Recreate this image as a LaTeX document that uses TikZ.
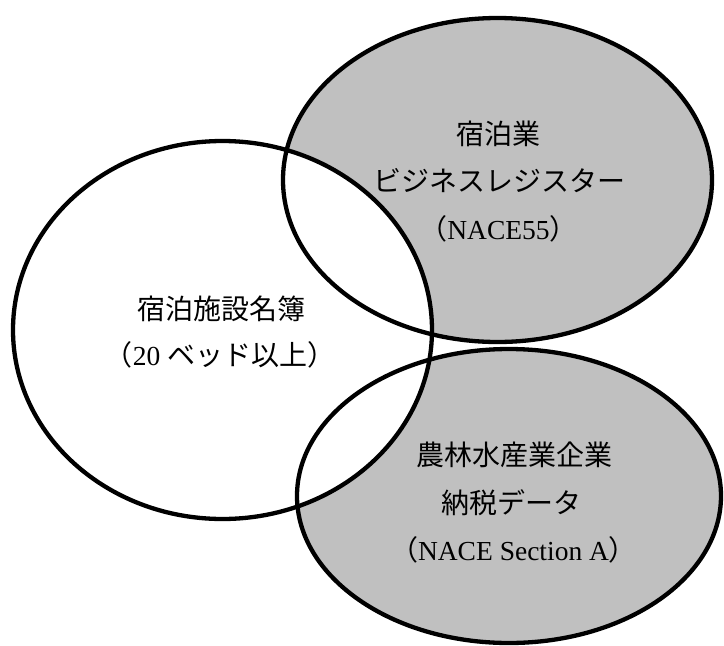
\documentclass[tikz,border=0pt]{standalone}
\usepackage{fontspec}
\setmainfont{Liberation Serif}
\newfontfamily\jp{Noto Sans CJK JP}
\definecolor{venngray}{RGB}{192,192,192}
\tikzset{
  setline/.style={line width=4.3pt, draw=black},
  lbl/.style={font=\fontsize{27.5}{30}\selectfont, inner sep=0pt, anchor=center}
}
\newcommand{\jpt}[1]{{\jp\fontsize{28}{30}\selectfont #1}}
\begin{document}
\begin{tikzpicture}[x=1pt,y=-1pt]
\useasboundingbox (0,0) rectangle (724,646);
% fills
\fill[venngray] (497.5,180) ellipse [x radius=214.5, y radius=162];
\fill[venngray] (509,496) ellipse [x radius=212, y radius=147];
\fill[white] (222.5,330) ellipse [x radius=209.5, y radius=189];
% outlines
\draw[setline] (497.5,180) ellipse [x radius=214.5, y radius=162];
\draw[setline] (509,496) ellipse [x radius=212, y radius=147];
\draw[setline] (222.5,330) ellipse [x radius=209.5, y radius=189];
% labels
\node[lbl] (t1) at (498,134) {\jpt{宿泊業}};
\node[lbl] (t2) at (499.5,181) {\jpt{ビジネスレジスター}};
\node[lbl] (t3) at (498.5,229) {\jpt{（}NACE55\jpt{）}};
\node[lbl] (l1) at (221.5,309) {\jpt{宿泊施設名簿}};
\node[lbl] (l2) at (220,355) {\jpt{（}20 \jpt{ベッド以上）}};
\node[lbl] (b1) at (514,455) {\jpt{農林水産業企業}};
\node[lbl] (b2) at (511,503) {\jpt{納税データ}};
\node[lbl] (b3) at (513.5,550) {\jpt{（}NACE Section A\jpt{）}};
\end{tikzpicture}
\end{document}
